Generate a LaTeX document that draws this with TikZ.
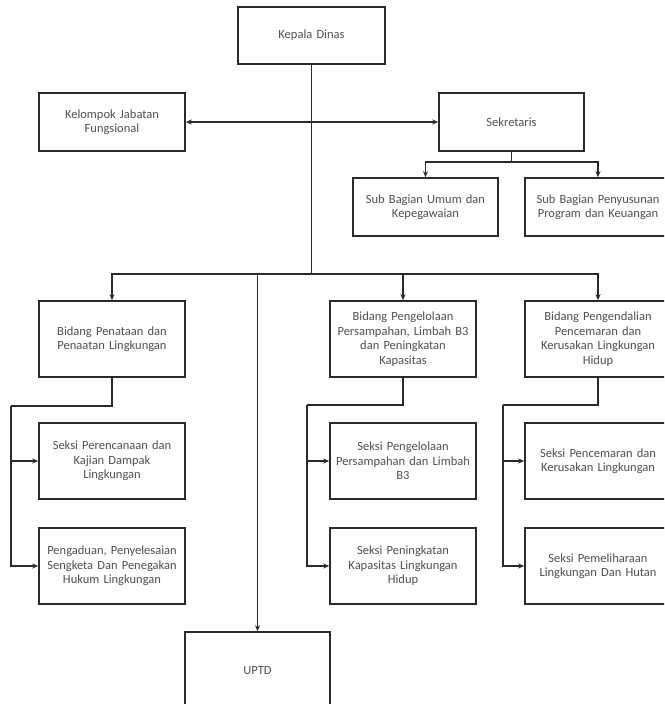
\documentclass[tikz,border=0pt]{standalone}
\usepackage{fontspec}
\setmainfont{Carlito}
\usetikzlibrary{arrows.meta}
\definecolor{linec}{HTML}{2A2A2A}
\definecolor{textc}{HTML}{505050}
\begin{document}
\begin{tikzpicture}[x=1pt,y=-1pt,
  org/.style={draw=linec, line width=1.6pt, fill=white, minimum width=146pt,
    inner sep=2pt, text width=140pt, align=center, text=textc,
    font=\fontsize{12.5}{14.5}\selectfont},
  short/.style={org, minimum height=58pt},
  tall/.style={org, minimum height=76pt},
  conn/.style={draw=linec, line width=1.6pt},
  arr/.style={conn, -{Stealth[length=6pt,width=5pt]}},
  darr/.style={conn, {Stealth[length=6pt,width=5pt]}-{Stealth[length=6pt,width=5pt]}}]
\useasboundingbox (0,0) rectangle (664,704);
\begin{scope}
\clip (0,0) rectangle (664,704);
% nodes
\node[short, minimum width=147pt, minimum height=57pt] (kd) at (311.5,35.5) {Kepala Dinas};
\node[short] (kjf) at (112,122) {Kelompok Jabatan\\Fungsional};
\node[short, minimum width=145pt] (sek) at (511.5,122) {Sekretaris};
\node[short, minimum width=145pt] (sbu) at (425.5,207) {Sub Bagian Umum dan\\Kepegawaian};
\node[short] (sbp) at (598,207) {Sub Bagian Penyusunan\\Program dan Keuangan};
\node[tall] (bpp) at (112,339) {Bidang Penataan dan\\Penaatan Lingkungan};
\node[tall] (bpl) at (403,339) {Bidang Pengelolaan\\Persampahan, Limbah B3\\dan Peningkatan\\Kapasitas};
\node[tall] (bpk) at (598,339) {Bidang Pengendalian\\Pencemaran dan\\Kerusakan Lingkungan\\Hidup};
\node[tall] (s1) at (112,461) {Seksi Perencanaan dan\\Kajian Dampak\\Lingkungan};
\node[tall] (s2) at (112,566) {Pengaduan, Penyelesaian\\Sengketa Dan Penegakan\\Hukum Lingkungan};
\node[tall] (s3) at (403,461) {Seksi Pengelolaan\\Persampahan dan Limbah\\B3};
\node[tall] (s4) at (403,566) {Seksi Peningkatan\\Kapasitas Lingkungan\\Hidup};
\node[tall] (s5) at (598,461) {Seksi Pencemaran dan\\Kerusakan Lingkungan};
\node[tall] (s6) at (598,566) {Seksi Pemeliharaan\\Lingkungan Dan Hutan};
\node[org, minimum width=145pt, minimum height=78pt] (uptd) at (257.5,671) {UPTD};
% junction coordinates
\coordinate (bar) at (311.5,274);
\coordinate (sj) at (511.5,162);
\coordinate (p1) at (11,406);
\coordinate (p2) at (307,405);
\coordinate (p3) at (503,405);
% connectors
\draw[conn] (kd.south) -- (bar);
\draw[darr] (kjf.east) -- (sek.west);
\draw[arr] (bar) -| (bpp.north);
\draw[arr] (bar) -| (bpl.north);
\draw[arr] (bar) -| (bpk.north);
\draw[arr] (uptd.north |- bar) -- (uptd.north);
\draw[conn] (sek.south) -- (sj);
\draw[arr] (sj) -| (sbu.north);
\draw[arr] (sj) -| (sbp.north);
\draw[conn] (bpp.south) |- (p1);
\draw[arr] (p1) |- (s1.west);
\draw[arr] (p1) |- (s2.west);
\draw[conn] (bpl.south) |- (p2);
\draw[arr] (p2) |- (s3.west);
\draw[arr] (p2) |- (s4.west);
\draw[conn] (bpk.south) |- (p3);
\draw[arr] (p3) |- (s5.west);
\draw[arr] (p3) |- (s6.west);
\end{scope}
\end{tikzpicture}
\end{document}
